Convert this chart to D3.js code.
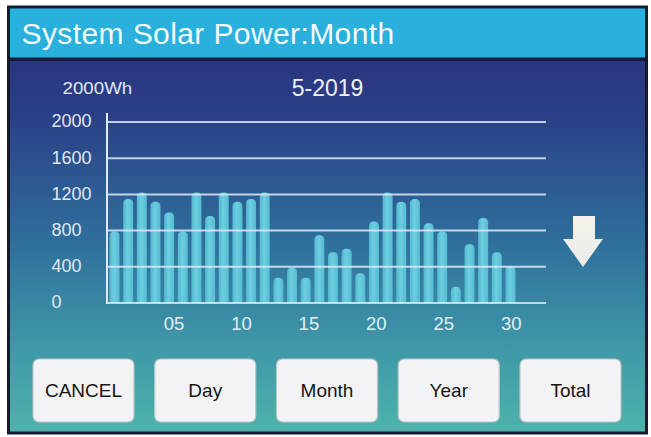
<!DOCTYPE html>
<html>
<head>
<meta charset="utf-8">
<script src="https://cdn.jsdelivr.net/npm/d3@7"></script>
<style>
  html, body { margin: 0; padding: 0; background: #ffffff; }
  svg { display: block; font-family: "Liberation Sans", Arial, sans-serif; }
</style>
</head>
<body>
<svg id="chart" width="651" height="437"></svg>
<script>
// ---- data ----
const days = d3.range(1, 31);
const energy = [790, 1150, 1220, 1120, 1000, 790, 1220, 960, 1220, 1120,
                1150, 1220, 280, 390, 280, 750, 560, 600, 330, 900,
                1220, 1120, 1150, 880, 790, 180, 650, 940, 560, 410];
const yTicks = [0, 400, 800, 1200, 1600, 2000];
const xTickLabels = ["05", "10", "15", "20", "25", "30"];
const xTickDays = [5, 10, 15, 20, 25, 30];
const buttons = ["CANCEL", "Day", "Month", "Year", "Total"];
const title = "System Solar Power:Month";
const unitLabel = "2000Wh";
const periodLabel = "5-2019";

// ---- layout ----
const svg = d3.select("#chart");
const defs = svg.append("defs");

const bg = defs.append("linearGradient").attr("id", "bg").attr("x1", 0).attr("y1", 0).attr("x2", 0).attr("y2", 1);
bg.append("stop").attr("offset", "0%").attr("stop-color", "#292b78");
bg.append("stop").attr("offset", "25%").attr("stop-color", "#2a3f86");
bg.append("stop").attr("offset", "55%").attr("stop-color", "#2f6f9c");
bg.append("stop").attr("offset", "80%").attr("stop-color", "#3f98a8");
bg.append("stop").attr("offset", "100%").attr("stop-color", "#4db3aa");

const barGrad = defs.append("linearGradient").attr("id", "barg").attr("x1", 0).attr("y1", 0).attr("x2", 1).attr("y2", 0);
barGrad.append("stop").attr("offset", "0%").attr("stop-color", "#52b8ce");
barGrad.append("stop").attr("offset", "45%").attr("stop-color", "#6dcfe1");
barGrad.append("stop").attr("offset", "100%").attr("stop-color", "#55bbd0");

const arrowGrad = defs.append("linearGradient").attr("id", "arrg").attr("x1", 0).attr("y1", 0).attr("x2", 0).attr("y2", 1);
arrowGrad.append("stop").attr("offset", "0%").attr("stop-color", "#f6f1ea");
arrowGrad.append("stop").attr("offset", "100%").attr("stop-color", "#e8ecea");

// frame
svg.append("rect").attr("x", 8.5).attr("y", 7).attr("width", 638).attr("height", 426)
  .attr("fill", "url(#bg)").attr("stroke", "#151a30").attr("stroke-width", 3);

// title bar
svg.append("rect").attr("x", 10).attr("y", 8.5).attr("width", 635).attr("height", 50)
  .attr("fill", "#29b0dc");
svg.append("rect").attr("x", 10).attr("y", 57.5).attr("width", 635).attr("height", 3.5)
  .attr("fill", "#141a38");
svg.append("text").attr("x", 21.5).attr("y", 43.5).attr("fill", "#f4fbff")
  .attr("font-size", 30).attr("letter-spacing", 0.4).text(title);

// scales
const x = d3.scaleBand().domain(days).range([107.7, 517.3]).paddingInner(0.27).paddingOuter(0.135);
const xt = d3.scaleLinear().domain([1, 30]).range([120, 511.3]);
const y = d3.scaleLinear().domain([0, 2000]).range([303, 122]);
const gridX0 = 107, gridX1 = 546;

// labels
svg.append("text").attr("transform", "translate(62.5,94) scale(1.17,1)").attr("fill", "#e2e6f4")
  .attr("font-size", 16).text(unitLabel);
svg.append("text").attr("x", 327.5).attr("y", 96).attr("text-anchor", "middle").attr("fill", "#eef0f8")
  .attr("font-size", 23).text(periodLabel);

// bars
const bw = x.bandwidth(), r = 4.5;
svg.append("g").selectAll("path").data(days).join("path")
  .attr("fill", "url(#barg)")
  .attr("d", (d, i) => {
    const x0 = x(d), x1 = x0 + bw, yt = y(energy[i]), yb = y(0);
    return `M${x0},${yb}V${yt + r}Q${x0},${yt} ${x0 + r},${yt}H${x1 - r}Q${x1},${yt} ${x1},${yt + r}V${yb}Z`;
  });

// gridlines (drawn over bars)
svg.append("g").selectAll("line").data(yTicks).join("line")
  .attr("x1", gridX0).attr("x2", gridX1)
  .attr("y1", d => y(d)).attr("y2", d => y(d))
  .attr("stroke", "#dfe8f6").attr("stroke-opacity", 0.85).attr("stroke-width", 2);

// y axis line
svg.append("line").attr("x1", gridX0).attr("x2", gridX0).attr("y1", 113).attr("y2", y(0) + 1)
  .attr("stroke", "#dfe8f6").attr("stroke-width", 2);

// y tick labels (left aligned)
svg.append("g").selectAll("text").data(yTicks).join("text")
  .attr("x", 51.5).attr("y", d => y(d) - 1).attr("dy", "0.35em")
  .attr("fill", "#e2e6f2").attr("font-size", 18).text(d => d);

// x tick labels
svg.append("g").selectAll("text").data(xTickDays).join("text")
  .attr("x", d => xt(d)).attr("y", 324).attr("dy", "0.35em").attr("text-anchor", "middle")
  .attr("fill", "#e2eef2").attr("font-size", 18.5).text((d, i) => xTickLabels[i]);

// down arrow
svg.append("path")
  .attr("d", "M573,216H595V239H603L583,267L563,239H573Z")
  .attr("fill", "url(#arrg)");

// buttons
const bx = d3.scalePoint().domain(buttons).range([83.5, 570.5]);
const bg2 = svg.append("g").selectAll("g").data(buttons).join("g")
  .attr("transform", d => `translate(${bx(d)},390.5)`);
bg2.append("rect").attr("x", -50.5).attr("y", -31.5).attr("width", 101).attr("height", 63)
  .attr("rx", 6).attr("fill", "#f3f3f5").attr("stroke", "#b9c7c8").attr("stroke-width", 1.2);
bg2.append("text").attr("text-anchor", "middle").attr("dy", "0.36em")
  .attr("fill", "#151515").attr("font-size", 19).text(d => d);
</script>
</body>
</html>
